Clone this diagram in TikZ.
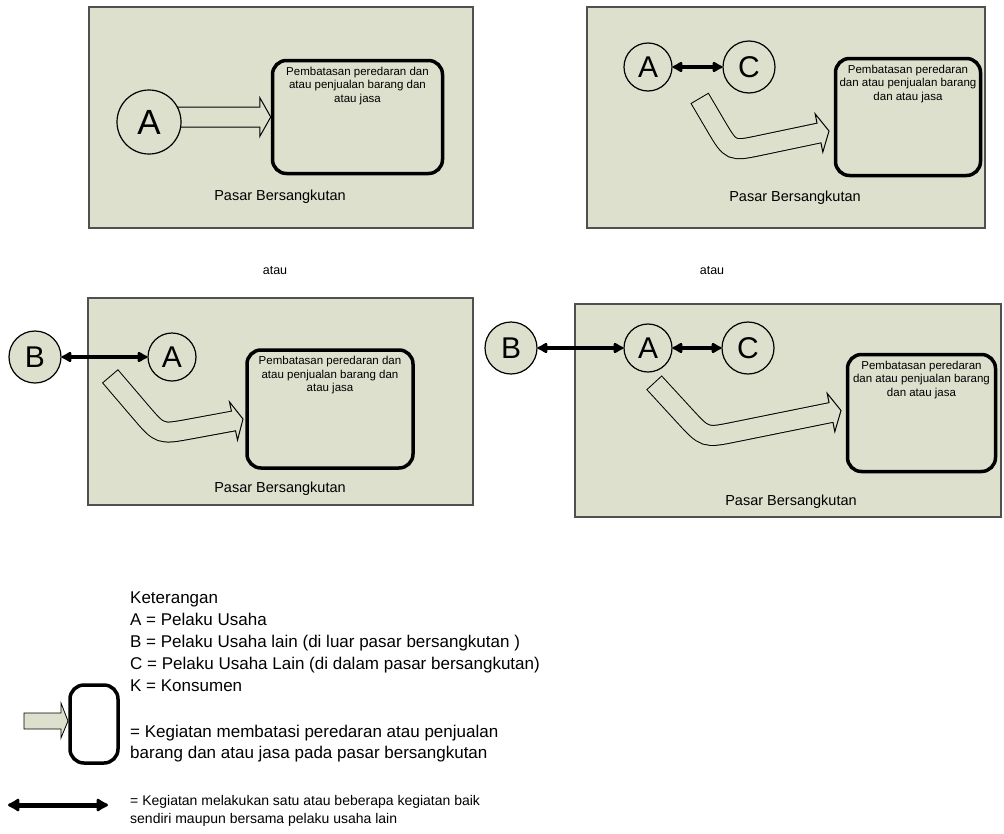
\documentclass[tikz,border=0pt]{standalone}
\usepackage{fontspec}
\setmainfont{Liberation Sans}
\usetikzlibrary{arrows.meta,calc,positioning}
\definecolor{panelgreen}{RGB}{221,224,205}
\definecolor{panelline}{RGB}{80,80,80}
\tikzset{
  panel/.style={draw=panelline, fill=panelgreen, line width=1.2pt},
  actor/.style={circle, draw, line width=1.2pt, fill=panelgreen, inner sep=0pt, minimum size=48pt, font=\fontsize{30}{30}\selectfont},
  bigactor/.style={actor, minimum size=64pt, font=\fontsize{35}{35}\selectfont},
  other/.style={actor, minimum size=52pt},
  limitbox/.style={draw, line width=3.5pt, rounded corners=14pt, inner sep=0pt},
  boxtext/.style={align=center, inner sep=0pt, font=\fontsize{11.5}{13.5}\selectfont},
  market/.style={font=\fontsize{14.5}{16}\selectfont},
  link/.style={<->, >={Latex[round,length=12pt,width=13pt]}, line width=4.5pt},
  legtext/.style={anchor=base west, inner sep=0pt, font=\fontsize{17}{20}\selectfont},
}
% wide arrow: tail, corner, head base, tip
\newcommand{\bentarrow}[4]{%
  \draw[line width=21pt] (#1) -- ($(#2)!30pt!(#1)$) .. controls (#2) .. ($(#2)!30pt!(#3)$) -- (#3);
  \filldraw[fill=panelgreen, line width=1pt] ($(#3)!19.5pt!90:(#4)$) -- (#4) -- ($(#3)!19.5pt!-90:(#4)$) -- cycle;
  \draw[line width=19pt, draw=panelgreen, shorten <=1pt] (#1) -- ($(#2)!30pt!(#1)$) .. controls (#2) .. ($(#2)!30pt!(#3)$) -- ($(#3)!2pt!(#4)$);
}
\begin{document}
\begin{tikzpicture}[x=1pt,y=-1pt]
\useasboundingbox (0,0) rectangle (1004,833);
% the four markets
\draw[panel] (89,7) rectangle (473,228);
\draw[panel] (587,7) rectangle (985,228);
\draw[panel] (88,298) rectangle (473,505);
\draw[panel] (575,304) rectangle (1001,517);

% top left
\node[limitbox, minimum width=170pt, minimum height=113pt] (bx1) at (357.5,117) {};
\node[boxtext, below=8pt of bx1.north] (tx1) {Pembatasan peredaran dan\\atau penjualan barang dan\\atau jasa};
\coordinate (t1) at (149,117);
\coordinate (k1) at (205,117.01);
\coordinate (h1) at ($(bx1.west)+(-11,0)$);
\bentarrow{t1}{k1}{h1}{bx1.west}
\node[bigactor] (a1) at (149,122) {A};
\node[market] (m1) at (280,197) {Pasar Bersangkutan};

% top right
\node[limitbox, minimum width=145pt, minimum height=117pt] (bx2) at (908,117) {};
\node[boxtext, below=8pt of bx2.north] (tx2) {Pembatasan peredaran\\dan atau penjualan barang\\dan atau jasa};
\coordinate (t2) at (699.5,98);
\coordinate (k2) at (731,151.5);
\coordinate (h2) at (819,133);
\coordinate (p2) at (829,131);
\bentarrow{t2}{k2}{h2}{p2}
\node[actor] (a2) at (648,67) {A};
\node[other] (c2) at (749,67) {C};
\draw[link] (a2) -- (c2);
\node[market] (m2) at (795,198) {Pasar Bersangkutan};

\node[font=\fontsize{12.5}{14}\selectfont] (or1) at (275,271) {atau};
\node[font=\fontsize{12.5}{14}\selectfont] (or2) at (712,271) {atau};

% bottom left
\node[limitbox, minimum width=166pt, minimum height=118pt] (bx3) at (330,409) {};
\node[boxtext, below=8pt of bx3.north] (tx3) {Pembatasan peredaran dan\\atau penjualan barang dan\\atau jasa};
\coordinate (t3) at (110,376);
\coordinate (k3) at (160,434.5);
\coordinate (h3) at (233.5,421);
\coordinate (p3) at (243,419);
\bentarrow{t3}{k3}{h3}{p3}
\node[other] (b3) at (35,357) {B};
\node[actor] (a3) at (172,357) {A};
\draw[link] (b3) -- (a3);
\node[market] (m3) at (280,489) {Pasar Bersangkutan};

% bottom right
\node[limitbox, minimum width=148pt, minimum height=117pt] (bx4) at (921.5,413) {};
\node[boxtext, below=8pt of bx4.north] (tx4) {Pembatasan peredaran\\dan atau penjualan barang\\dan atau jasa};
\coordinate (t4) at (654,382.5);
\coordinate (k4) at (705,438);
\coordinate (h4) at (831,412.5);
\coordinate (p4) at (841,410.5);
\bentarrow{t4}{k4}{h4}{p4}
\node[other] (b4) at (511,348) {B};
\node[actor] (a4) at (648,348) {A};
\node[other] (c4) at (748,348) {C};
\draw[link] (b4) -- (a4);
\draw[link] (a4) -- (c4);
\node[market] (m4) at (791,502) {Pasar Bersangkutan};

% legend
\filldraw[fill=panelgreen, line width=0.8pt] (24,713) -- (61,713) -- (61,703) -- (68,721) -- (61,738) -- (61,729) -- (24,729) -- cycle;
\node[limitbox, minimum width=48pt, minimum height=78pt] (lg1) at (94,724) {};
\coordinate (d1) at (8,805);
\coordinate (d2) at (108,805);
\draw[link, line width=5pt, >={Latex[round,length=14pt,width=16pt]}] (d1) -- (d2);
\foreach \y/\t in {603/{Keterangan}, 625/{A = Pelaku Usaha}, 647/{B = Pelaku Usaha lain (di luar pasar bersangkutan )}, 669/{C = Pelaku Usaha Lain (di dalam pasar bersangkutan)}, 691/{K = Konsumen}, 737/{= Kegiatan membatasi peredaran atau penjualan}, 758/{barang dan atau jasa pada pasar bersangkutan}}
{
    \node[legtext] (l\y) at (130,\y) {\t};
}
\node[legtext, font=\fontsize{14}{16}\selectfont] (l805) at (130,805) {= Kegiatan melakukan satu atau beberapa kegiatan baik};
\node[legtext, font=\fontsize{14}{16}\selectfont] (l823) at (130,823) {sendiri maupun bersama pelaku usaha lain};
\end{tikzpicture}
\end{document}
